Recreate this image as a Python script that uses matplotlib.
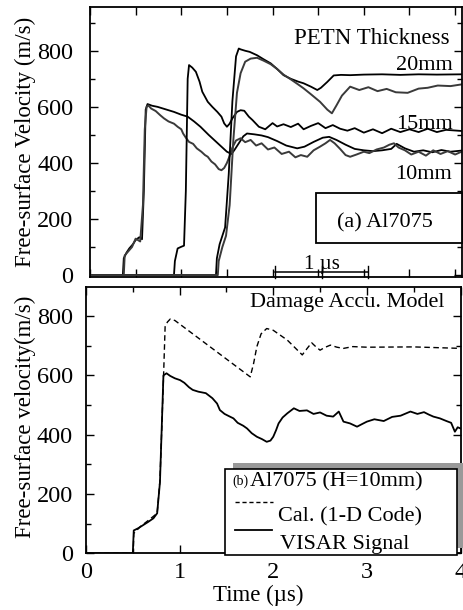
import numpy as np
import matplotlib
matplotlib.use("Agg")
import matplotlib.pyplot as plt
from matplotlib.patches import Rectangle
from matplotlib.lines import Line2D
from matplotlib.ticker import MultipleLocator

plt.rcParams['font.family'] = ['Liberation Serif', 'DejaVu Serif']

W, H = 463, 610

# ---- (a) Al7075, PETN thickness series (time on the panel's own scale, us) ----
t10a = [0, 0.36, 0.37, 0.40, 0.43, 0.47, 0.50, 0.54, 0.57, 0.59, 0.61, 0.63, 0.68, 0.74, 0.82, 0.92,
        1.00, 1.07, 1.14, 1.21, 1.30, 1.40, 1.46, 1.50, 1.55, 1.58, 1.63, 1.68, 1.72, 1.80, 1.88, 1.95,
        2.05, 2.15, 2.27, 2.35, 2.45, 2.55, 2.62, 2.70, 2.80, 2.90, 3.00, 3.10, 3.20, 3.30, 3.36, 3.45,
        3.55, 3.65, 3.75, 3.85, 3.95, 4.07]
v10a = [0, 0, 60, 80, 95, 110, 125, 135, 128, 300, 590, 610, 604, 600, 592, 582,
        572, 565, 548, 529, 500, 470, 452, 440, 432, 445, 470, 495, 505, 502, 498, 492,
        478, 462, 452, 458, 475, 490, 493, 482, 465, 450, 445, 442, 445, 450, 468, 452,
        440, 445, 438, 446, 440, 444]

t10b = [0, 0.37, 0.38, 0.42, 0.46, 0.50, 0.55, 0.58, 0.60, 0.62, 0.64, 0.67, 0.72, 0.77, 0.81, 0.86,
        0.92, 0.96, 1.00, 1.02, 1.05, 1.085, 1.13, 1.17, 1.22, 1.26, 1.29, 1.33, 1.37, 1.41, 1.44, 1.47,
        1.50, 1.53, 1.56, 1.60, 1.65, 1.70, 1.76, 1.82, 1.88, 1.95, 2.02, 2.10, 2.18, 2.25, 2.31, 2.38,
        2.45, 2.52, 2.58, 2.63, 2.68, 2.74, 2.80, 2.85, 2.92, 3.00, 3.06, 3.14, 3.22, 3.28, 3.33, 3.38,
        3.45, 3.52, 3.60, 3.68, 3.76, 3.84, 3.92, 4.00, 4.07]
v10b = [0, 0, 70, 85, 100, 130, 120, 250, 520, 600, 605, 594, 585, 570, 559, 548,
        540, 529, 520, 505, 490, 475, 468, 452, 440, 428, 422, 405, 395, 378, 374, 382,
        400, 425, 455, 480, 488, 474, 482, 462, 470, 448, 455, 432, 440, 420, 428, 422,
        445, 458, 470, 482, 470, 450, 428, 422, 430, 440, 435, 448, 455, 465, 470, 455,
        445, 430, 440, 426, 445, 432, 442, 430, 440]

t15 = [0, 0.92, 0.93, 0.96, 1.00, 1.03, 1.05, 1.07, 1.085, 1.12, 1.16, 1.20, 1.23, 1.29, 1.34, 1.395,
       1.44, 1.47, 1.50, 1.53, 1.56, 1.61, 1.65, 1.69, 1.74, 1.78, 1.85, 1.92, 2.00, 2.05, 2.12, 2.20,
       2.28, 2.34, 2.42, 2.50, 2.58, 2.66, 2.74, 2.82, 2.90, 3.00, 3.10, 3.20, 3.30, 3.40, 3.50, 3.60,
       3.70, 3.80, 3.90, 4.07]
v15 = [0, 0, 50, 95, 101, 105, 300, 700, 749, 740, 725, 690, 654, 618, 600, 582,
       565, 541, 529, 540, 559, 582, 588, 586, 565, 553, 529, 520, 542, 530, 538, 528,
       540, 520, 532, 542, 524, 535, 522, 515, 524, 508, 520, 506, 522, 510, 520, 510,
       522, 510, 518, 514]

t20a = [0, 1.38, 1.39, 1.42, 1.45, 1.48, 1.52, 1.56, 1.60, 1.63, 1.65, 1.70, 1.75, 1.83, 1.90, 1.98,
        2.05, 2.12, 2.20, 2.28, 2.34, 2.42, 2.49, 2.53, 2.57, 2.60, 2.67, 2.75, 2.85, 3.00, 3.20, 3.40,
        3.60, 3.80, 4.07]
v20a = [0, 0, 60, 110, 140, 170, 360, 620, 780, 808, 805, 800, 796, 784, 770, 755,
        735, 713, 700, 690, 684, 672, 660, 668, 680, 689, 712, 714, 713, 715, 716, 714,
        716, 715, 716]

t20b = [0, 1.40, 1.41, 1.45, 1.49, 1.53, 1.57, 1.61, 1.65, 1.70, 1.76, 1.83, 1.90, 1.98, 2.05, 2.12,
        2.20, 2.28, 2.34, 2.42, 2.52, 2.60, 2.65, 2.70, 2.76, 2.85, 2.95, 3.05, 3.15, 3.25, 3.35, 3.48,
        3.60, 3.70, 3.81, 3.95, 4.07]
v20b = [0, 0, 50, 100, 140, 250, 480, 650, 720, 761, 772, 775, 765, 752, 735, 715,
        698, 680, 666, 645, 618, 590, 577, 605, 640, 672, 660, 670, 656, 664, 652, 650,
        665, 668, 676, 674, 680]

# ---- (b) Al7075 (H=10mm), calculation vs VISAR ----
t_cal = [0, 0.505, 0.51, 0.58, 0.67, 0.76, 0.79, 0.827, 0.845, 0.87, 0.90, 0.95, 1.754, 1.79, 1.825,
         1.87, 1.93, 2.0, 2.15, 2.31, 2.36, 2.41, 2.45, 2.50, 2.55, 2.61, 2.68, 2.75, 2.85, 3.0, 3.5, 4.0]
v_cal = [0, 0, 67, 90, 112, 135, 247, 584, 764, 780, 790, 785, 595, 640, 697,
         740, 758, 752, 719, 669, 690, 710, 698, 685, 694, 702, 695, 691, 697, 695, 696, 691]

t_vis = [0, 0.5, 0.51, 0.56, 0.61, 0.66, 0.72, 0.76, 0.79, 0.827, 0.86, 0.90, 0.95, 1.005, 1.05, 1.10,
         1.14, 1.20, 1.28, 1.35, 1.40, 1.43, 1.48, 1.53, 1.575, 1.62, 1.68, 1.72, 1.77, 1.825, 1.88, 1.93,
         1.97, 2.0, 2.03, 2.057, 2.10, 2.15, 2.22, 2.28, 2.36, 2.43, 2.50, 2.57, 2.64, 2.70, 2.75, 2.82,
         2.895, 2.95, 3.0, 3.08, 3.18, 3.27, 3.36, 3.465, 3.54, 3.61, 3.66, 3.71, 3.78, 3.85, 3.90, 3.94,
         3.97, 4.0]
v_vis = [0, 0, 77, 85, 95, 105, 118, 135, 240, 600, 607, 598, 590, 584, 575, 560,
         551, 545, 540, 523, 505, 483, 470, 462, 455, 440, 430, 421, 405, 393, 385, 376,
         380, 393, 415, 438, 458, 472, 489, 480, 482, 470, 475, 464, 461, 478, 444, 438,
         427, 436, 444, 452, 446, 460, 464, 478, 470, 476, 468, 461, 455, 446, 440, 410,
         425, 421]


def fx(x):
    return x / W


def fy(y):
    return 1 - y / H


fig = plt.figure(figsize=(W / 100, H / 100), dpi=100)

ax1 = fig.add_axes([fx(90), fy(276.5), (461.5 - 90) / W, (276.5 - 7.3) / H])
ax2 = fig.add_axes([fx(86), fy(553.3), (460.5 - 86) / W, (553.3 - 287.3) / H])

for ax in (ax1, ax2):
    ax.tick_params(which='both', direction='in', top=True, right=True, width=1.0,
                   labelsize=17.5, colors='black')
    ax.tick_params(which='major', length=6)
    ax.tick_params(which='minor', length=3.5)
    for s in ax.spines.values():
        s.set_linewidth(1.3)
    ax.yaxis.set_major_locator(MultipleLocator(200))
    ax.yaxis.set_minor_locator(MultipleLocator(100))

# top panel
ax1.plot(t10a, v10a, color='black', lw=1.3)
ax1.plot(t10b, v10b, color='#3a3a3a', lw=1.4)
ax1.plot(t15, v15, color='black', lw=1.3)
ax1.plot(t20a, v20a, color='black', lw=1.3)
ax1.plot(t20b, v20b, color='#3a3a3a', lw=1.4)
ax1.set_xlim(0, 4.07)
ax1.set_ylim(-5, 955)
ax1.xaxis.set_major_locator(MultipleLocator(0.5))
ax1.tick_params(axis='x', labelbottom=False)
ax1.tick_params(axis='y', pad=12)

fig.text(fx(450), fy(38), 'PETN Thickness', ha='right', va='center', fontsize=16.5)
fig.text(fx(453), fy(65), '20mm', ha='right', va='center', fontsize=16)
fig.text(fx(453), fy(124.5), '15mm', ha='right', va='center', fontsize=16)
fig.text(fx(452), fy(174.5), '10mm', ha='right', va='center', fontsize=16)

box_a = Rectangle((fx(316), fy(243.3)), (461.5 - 316) / W, (243.3 - 192.7) / H,
                  transform=fig.transFigure, facecolor='white', edgecolor='black', lw=1.3, zorder=5)
fig.patches.append(box_a)
fig.text(fx(385), fy(223), '(a) Al7075', ha='center', va='center', fontsize=16, zorder=6)

# 1 us scale bar
bar_y = fy(271.7)
fig.add_artist(Line2D([fx(275), fx(368)], [bar_y, bar_y], color='black', lw=1.1))
for xb in (275, 321.7, 368):
    fig.add_artist(Line2D([fx(xb), fx(xb)], [fy(266), fy(278)], color='black', lw=1.0))
fig.text(fx(321.5), fy(269), '1 µs', ha='center', va='baseline', fontsize=15)

fig.text(fx(25), fy(142), 'Free-surface Velocity (m/s)', rotation=90, ha='center', va='center', fontsize=16.5)

# bottom panel
ax2.plot(t_cal, v_cal, color='black', lw=1.0, dashes=(4, 2.5))
ax2.plot(t_vis, v_vis, color='black', lw=1.3)
ax2.set_xlim(0, 4)
ax2.set_ylim(0, 897)
ax2.xaxis.set_major_locator(MultipleLocator(1))
ax2.xaxis.set_minor_locator(MultipleLocator(0.5))
ax2.tick_params(axis='y', pad=9.5)
ax2.tick_params(axis='x', pad=6)

fig.text(fx(445), fy(303), 'Damage Accu. Model', ha='right', va='center', fontsize=16)

shadow = Rectangle((fx(233), fy(548)), (463 - 233) / W, (548 - 462.7) / H,
                   transform=fig.transFigure, facecolor='#999999', edgecolor='none', zorder=4)
fig.patches.append(shadow)
box_b = Rectangle((fx(225), fy(555)), (456.7 - 225) / W, (555 - 469) / H,
                  transform=fig.transFigure, facecolor='white', edgecolor='black', lw=1.2, zorder=5)
fig.patches.append(box_b)
fig.text(fx(240), fy(481.7), '(b)', ha='center', va='center', fontsize=10, zorder=6)
fig.text(fx(250), fy(481.7), 'Al7075 (H=10mm)', ha='left', va='center', fontsize=16, zorder=6)
fig.add_artist(Line2D([fx(235), fx(273)], [fy(501.7), fy(501.7)], color='black', lw=1.0,
                      dashes=(3, 2), zorder=6))
fig.text(fx(278), fy(516.7), 'Cal. (1-D Code)', ha='left', va='center', fontsize=16, zorder=6)
fig.add_artist(Line2D([fx(235), fx(272)], [fy(530), fy(530)], color='black', lw=1.3, zorder=6))
fig.text(fx(280), fy(545), 'VISAR Signal', ha='left', va='center', fontsize=16, zorder=6)

fig.text(fx(258.5), fy(595), 'Time (µs)', ha='center', va='center', fontsize=16.5)
fig.text(fx(25), fy(416.5), 'Free-surface velocity(m/s)', rotation=90, ha='center', va='center', fontsize=16.5)

fig.savefig('out.png', dpi=100)
